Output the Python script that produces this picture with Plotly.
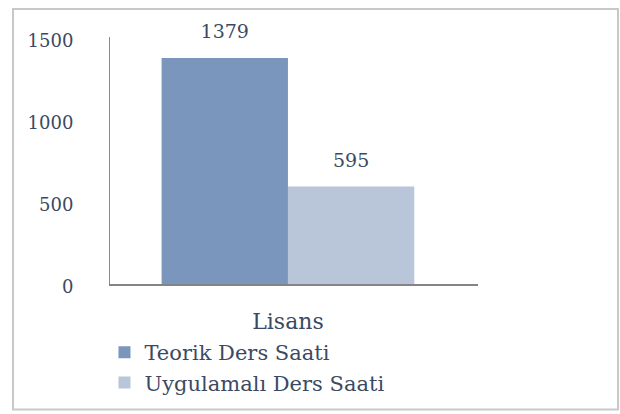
import plotly.graph_objects as go

categories = ["Lisans"]
series_names = ["Teorik Ders Saati", "Uygulamalı Ders Saati"]
teorik = [1379]
uygulamali = [595]
series_values = [teorik, uygulamali]
colors = ["#7a96bd", "#b9c6da"]
ytick_vals = [0, 500, 1000, 1500]

FONT = "DejaVu Serif"
TXT = "#3b4a62"

fig = go.Figure()
for i, (name, vals) in enumerate(zip(series_names, series_values)):
    fig.add_trace(go.Bar(
        x=categories, y=vals, name=name,
        marker=dict(color=colors[i], line=dict(width=0)),
        offsetgroup=str(i), alignmentgroup="a",
        legendgroup=f"g{i}", hoverinfo="skip",
    ))
for i, (name, vals) in enumerate(zip(series_names, series_values)):
    fig.add_trace(go.Scatter(
        x=categories, y=vals, name=name, mode="markers+text",
        text=[str(v) for v in vals], textposition="top center",
        marker=dict(size=22, opacity=0),
        textfont=dict(family=FONT, size=19, color=TXT),
        offsetgroup=str(i), alignmentgroup="a",
        showlegend=False, hoverinfo="skip", cliponaxis=False,
    ))

fig.update_layout(
    width=620, height=414,
    margin=dict(l=110, r=142, t=37, b=129),
    paper_bgcolor="white", plot_bgcolor="white",
    barmode="group", bargap=0.29, bargroupgap=0,
    scattermode="group", scattergap=0.29,
    font=dict(family=FONT, size=18, color=TXT),
    showlegend=True,
    legend=dict(x=-0.015, y=-0.19, xanchor="left", yanchor="top",
                orientation="v", traceorder="grouped", tracegroupgap=0,
                font=dict(family=FONT, size=21, color=TXT),
                bgcolor="rgba(0,0,0,0)"),
    xaxis=dict(type="category", range=[-0.5, 0.534],
               showline=True, linecolor="#848484", linewidth=1.5,
               showgrid=False, ticks="", ticklabelstandoff=17,
               tickfont=dict(family=FONT, size=22, color=TXT)),
    yaxis=dict(range=[0, 1507], tickvals=ytick_vals,
               showline=True, linecolor="#8c8c8c", linewidth=1,
               showgrid=False, zeroline=False, ticks="",
               ticklabelstandoff=32, ticklabelshift=3,
               tickfont=dict(family=FONT, size=18, color=TXT)),
    shapes=[dict(type="rect", xref="paper", yref="paper",
                 x0=-0.2636, x1=1.3804, y0=-0.508, y1=1.1129,
                 line=dict(color="#c8c8c8", width=2), layer="below")],
)

fig.write_html("out.html", config={"displayModeBar": False},
               post_script="document.body.style.margin='0';")
